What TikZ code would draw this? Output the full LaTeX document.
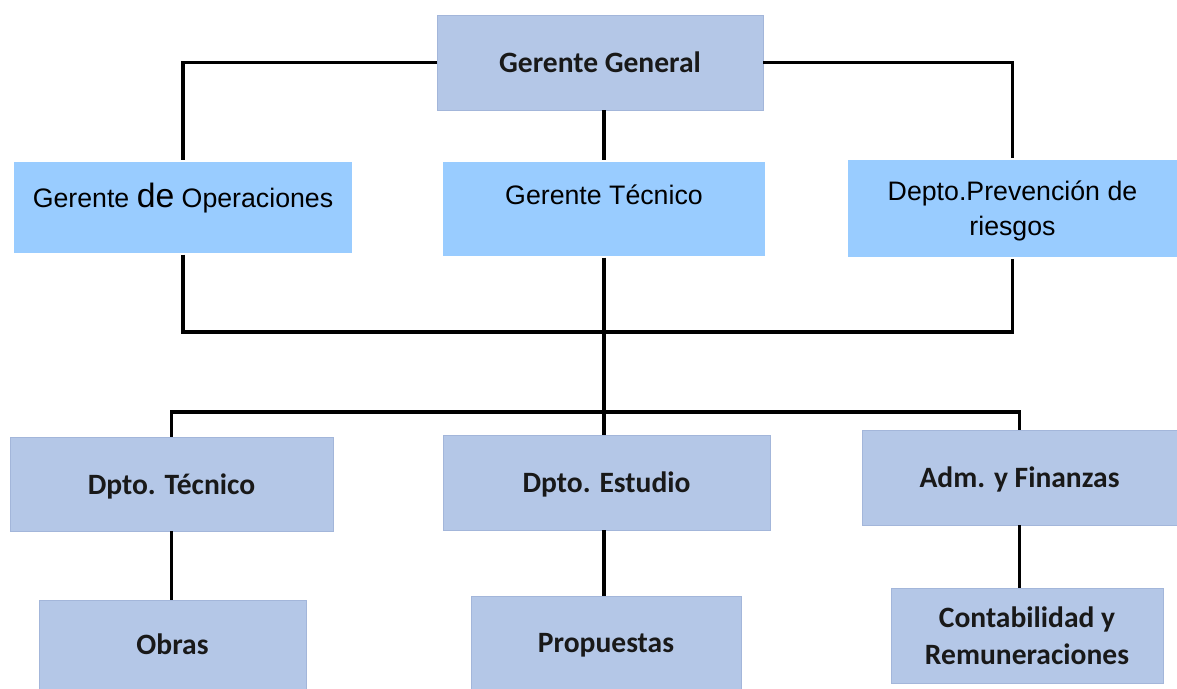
\documentclass[tikz,border=0pt]{standalone}
\usepackage{fontspec}
\setmainfont{Liberation Sans}
\newfontfamily\calib{Carlito}
\definecolor{boxgray}{HTML}{B4C7E7}
\definecolor{boxedge}{HTML}{A3B6DA}
\definecolor{boxsky}{HTML}{99CCFF}
\begin{document}
\begin{tikzpicture}[
    x=0.025cm,
    y=-0.025cm,
    line width=2.2pt,
    area/.style={
        draw=boxedge,
        line width=0.6pt,
        fill=boxgray,
        align=center,
        text depth=0pt,
        text=black!90,
        font=\calib\bfseries\fontsize{21}{26}\selectfont
    },
    mando/.style={
        fill=boxsky,
        align=center,
        font=\fontsize{19}{25}\selectfont
    }
]
    \useasboundingbox (0,0) rectangle (1177,689);

    % --- Top ---
    \node[area, minimum width=8.15cm, minimum height=2.375cm] (gg) at (600,62.5) {Gerente General};

    % --- Second level ---
    \node[mando, minimum width=8.45cm, minimum height=2.275cm] (op) at (183,207.5)
        {\raisebox{5.3pt}[14pt][4pt]{Gerente {\fontsize{24}{26}\selectfont de} Operaciones}};
    \node[mando, minimum width=8.05cm, minimum height=2.35cm] (gt) at (604,209)
        {\raisebox{8.5pt}[14pt][4pt]{Gerente Técnico}};
    \node[mando, text depth=0pt, minimum width=8.225cm, minimum height=2.425cm] (dp) at (1012.5,208.5)
        {Depto.Prevención de\\riesgos};

    % --- Departments ---
    \node[area, minimum width=8.075cm, minimum height=2.35cm] (dt) at (171.5,484) {Dpto. Técnico};
    \node[area, minimum width=8.175cm, minimum height=2.375cm] (de) at (606.5,482.5) {Dpto. Estudio};
    \node[area, minimum width=7.875cm, minimum height=2.375cm] (af) at (1019.5,477.5) {Adm. y Finanzas};

    % --- Bottom ---
    \node[area, minimum width=6.675cm, minimum height=2.225cm] (ob) at (172.5,644.5) {Obras};
    \node[area, minimum width=6.75cm, minimum height=2.325cm] (pr) at (606,642.5) {Propuestas};
    \node[area, minimum width=6.8cm, minimum height=2.375cm] (cr) at (1027,635.5) {Contabilidad y\\Remuneraciones};

    % --- Lines ---
    \coordinate (bus1) at (604,332);
    \coordinate (bus2) at (604,412);

    \draw (gg.west) -| (op.north);
    \draw (gg.east) -| (dp.north);
    \draw (gg.south -| gt.north) -- (gt.north);
    \draw (op.south) |- (bus1) -| (dp.south);
    \draw (gt.south) -- (bus2);
    \draw (dt.north) |- (bus2) -| (af.north);
    \draw (bus2) -- (bus2 |- de.north);

    \draw (dt.south) -- (dt.south |- ob.north);
    \draw (de.south -| bus2) -- (bus2 |- pr.north);
    \draw (af.south) -- (af.south |- cr.north);
\end{tikzpicture}
\end{document}
